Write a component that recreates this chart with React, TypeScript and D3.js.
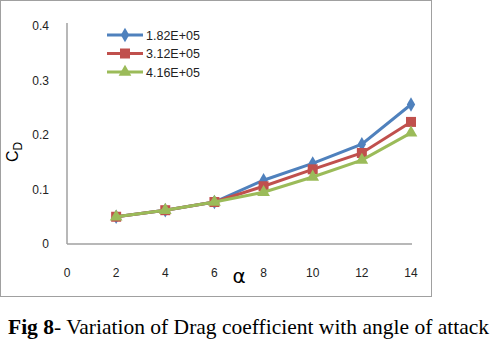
import React, { useEffect, useRef } from 'react';
import * as d3 from 'd3';

const angles = [2, 4, 6, 8, 10, 12, 14];
const series1 = [0.05, 0.062, 0.077, 0.117, 0.148, 0.183, 0.256];
const series2 = [0.05, 0.062, 0.077, 0.106, 0.137, 0.167, 0.224];
const series3 = [0.05, 0.062, 0.077, 0.095, 0.123, 0.154, 0.204];
const seriesNames = ['1.82E+05', '3.12E+05', '4.16E+05'];
const seriesColors = ['#4F81BD', '#C0504D', '#9BBB59'];
const xTicks = [0, 2, 4, 6, 8, 10, 12, 14];
const yTicks = [0, 0.1, 0.2, 0.3, 0.4];

const App: React.FC = () => {
  const ref = useRef<SVGSVGElement | null>(null);

  useEffect(() => {
    if (!ref.current) return;
    const svg = d3.select(ref.current);
    svg.selectAll('*').remove();

    const x = d3.scaleLinear().domain([0, 14]).range([67, 411]);
    const y = d3.scaleLinear().domain([0, 0.4]).range([244, 26]);

    // chart frame
    svg.append('rect')
      .attr('x', 0.5).attr('y', 0.5)
      .attr('width', 431).attr('height', 296)
      .attr('fill', 'white')
      .attr('stroke', '#a0a0a0')
      .attr('stroke-width', 1);

    // axes lines
    svg.append('line')
      .attr('x1', x(0)).attr('x2', x(0))
      .attr('y1', y(0.4) - 3).attr('y2', y(0))
      .attr('stroke', '#a0a0a0').attr('stroke-width', 1.5);
    svg.append('line')
      .attr('x1', x(0)).attr('x2', x(14) + 1)
      .attr('y1', y(0)).attr('y2', y(0))
      .attr('stroke', '#a0a0a0').attr('stroke-width', 1.5);

    const font = 'Liberation Sans, Arial, sans-serif';

    svg.append('g').selectAll('text')
      .data(yTicks)
      .enter().append('text')
      .attr('x', 49)
      .attr('y', d => y(d) + 4)
      .attr('text-anchor', 'end')
      .attr('font-family', font)
      .attr('font-size', 12)
      .attr('fill', '#222')
      .text(d => d3.format('')(+d.toFixed(1)));

    svg.append('g').selectAll('text')
      .data(xTicks)
      .enter().append('text')
      .attr('x', d => x(d))
      .attr('y', 277)
      .attr('text-anchor', 'middle')
      .attr('font-family', font)
      .attr('font-size', 12)
      .attr('fill', '#222')
      .text(d => d);

    // axis titles
    const yt = svg.append('text')
      .attr('transform', 'translate(18,152) rotate(-90)')
      .attr('text-anchor', 'middle')
      .attr('font-family', font)
      .attr('font-size', 16)
      .attr('fill', '#000');
    yt.append('tspan').text('C');
    yt.append('tspan').attr('font-size', 12).attr('dy', 4).text('D');

    svg.append('text')
      .attr('x', 239).attr('y', 283)
      .attr('text-anchor', 'middle')
      .attr('font-family', 'DejaVu Sans, sans-serif')
      .attr('font-size', 20)
      .attr('fill', '#000')
      .text('α');

    const all = [series1, series2, series3];
    const line = d3.line<number>()
      .x((_, i) => x(angles[i]))
      .y(d => y(d));

    const marker = (g: d3.Selection<SVGGElement, unknown, null, undefined>, k: number, cx: number, cy: number) => {
      const c = seriesColors[k];
      if (k === 0) {
        g.append('path')
          .attr('d', d3.symbol(d3.symbolDiamond, 60)() as string)
          .attr('transform', `translate(${cx},${cy})`)
          .attr('fill', c);
      } else if (k === 1) {
        g.append('rect')
          .attr('x', cx - 5).attr('y', cy - 5)
          .attr('width', 10).attr('height', 10)
          .attr('fill', c);
      } else {
        g.append('path')
          .attr('d', d3.symbol(d3.symbolTriangle, 70)() as string)
          .attr('transform', `translate(${cx},${cy})`)
          .attr('fill', c);
      }
    };

    all.forEach((vals, k) => {
      const g = svg.append('g');
      g.append('path')
        .datum(vals)
        .attr('fill', 'none')
        .attr('stroke', seriesColors[k])
        .attr('stroke-width', 3)
        .attr('d', line);
      vals.forEach((v, i) => marker(g, k, x(angles[i]), y(v)));
    });

    // legend
    seriesNames.forEach((name, k) => {
      const ly = 35 + k * 18.5;
      const g = svg.append('g');
      g.append('line')
        .attr('x1', 107).attr('x2', 143)
        .attr('y1', ly).attr('y2', ly)
        .attr('stroke', seriesColors[k]).attr('stroke-width', 3);
      marker(g, k, 125, ly);
      g.append('text')
        .attr('x', 146).attr('y', ly + 4.5)
        .attr('font-family', font)
        .attr('font-size', 12.5)
        .attr('fill', '#222')
        .text(name);
    });

    // caption
    const cap = svg.append('text')
      .attr('x', 8).attr('y', 334)
      .attr('font-family', 'Liberation Serif, Times New Roman, serif')
      .attr('font-size', 21.5)
      .attr('fill', '#000');
    cap.append('tspan').attr('font-weight', 'bold').text('Fig 8');
    cap.append('tspan').text('- Variation of Drag coefficient with angle of attack');
  }, []);

  return (
    <svg ref={ref} width={503} height={360}
      style={{ position: 'absolute', left: 0, top: 0, background: 'white' }} />
  );
};

export default App;
